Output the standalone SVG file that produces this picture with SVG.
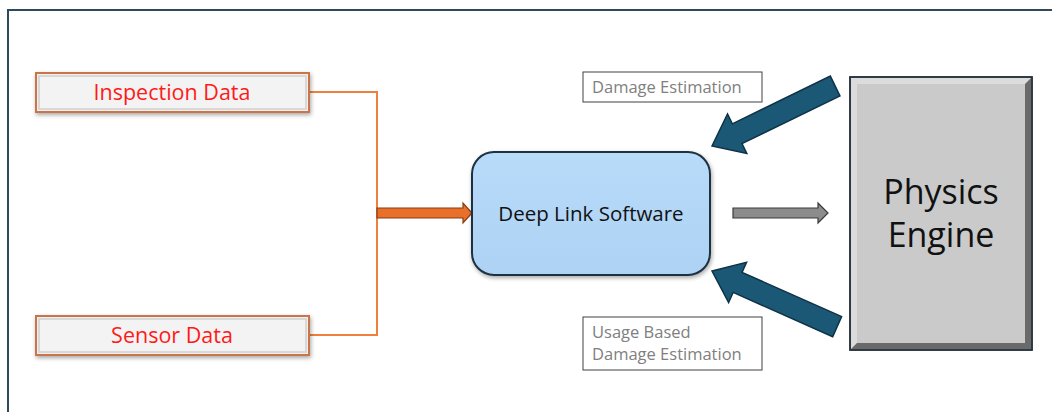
<svg xmlns="http://www.w3.org/2000/svg" width="1052" height="412" viewBox="0 0 1052 412">
  <defs>
    <style>
      .lbl { font-family: "Open Sans", "Liberation Sans", sans-serif; }
      .src-outer { fill: #f4efec; stroke: #c8764a; stroke-width: 2; }
      .src-inner { fill: #f3f3f3; stroke: #d0d0d0; stroke-width: 1.5; }
      .src-text { fill: #ff1a1a; font-size: 21.5px; text-anchor: middle; }
      .note { fill: #ffffff; stroke: #404040; stroke-width: 1; }
      .note-text { fill: #808080; font-size: 16.5px; }
      .wire { fill: none; stroke: #ef7f3d; stroke-width: 2; }
      .blue-arrow { fill: #1b5876; stroke: #0f3246; stroke-width: 1.5; stroke-linejoin: miter; }
    </style>
    <filter id="shadow" x="-10%" y="-30%" width="120%" height="170%">
      <feDropShadow dx="1" dy="2" stdDeviation="2" flood-color="#000" flood-opacity="0.35"/>
    </filter>
    <linearGradient id="boxShade" x1="0" y1="0" x2="0" y2="1">
      <stop offset="0" stop-color="#b8dbfa"/>
      <stop offset="1" stop-color="#aed2f3"/>
    </linearGradient>
  </defs>

  <rect width="1052" height="412" fill="#ffffff"/>

  <!-- outer frame -->
  <rect x="8" y="10" width="1060" height="420" fill="none" stroke="#2e4a5c" stroke-width="2"/>

  <!-- connectors -->
  <g id="connectors">
    <polyline class="wire" points="310,92 377,92 377,335 310,335"/>
    <polygon points="377,208 463,208 463,203 472,213 463,223 463,218 377,218" fill="#e8702a" stroke="#8a3c12" stroke-width="1.2"/>
    <polygon points="733,208 818,208 818,203 828,213 818,223 818,218 733,218" fill="#8c8c8c" stroke="#3a3a3a" stroke-width="1.2"/>
    <polygon class="blue-arrow" transform="translate(712,146) rotate(-26)" points="0,0 28,-22 28,-11 137,-11 137,11 28,11 28,22"/>
    <polygon class="blue-arrow" transform="translate(712,271) rotate(24)" points="0,0 28,-22 28,-11 137,-11 137,11 28,11 28,22"/>
  </g>

  <!-- Inspection Data -->
  <g id="inspection-data">
    <rect class="src-outer" x="36" y="73" width="273" height="39" filter="url(#shadow)"/>
    <rect class="src-inner" x="39" y="76" width="267" height="33"/>
    <text class="lbl src-text" x="172" y="100">Inspection Data</text>
  </g>

  <!-- Sensor Data -->
  <g id="sensor-data">
    <rect class="src-outer" x="36" y="316" width="273" height="39" filter="url(#shadow)"/>
    <rect class="src-inner" x="39" y="319" width="267" height="33"/>
    <text class="lbl src-text" x="172" y="343">Sensor Data</text>
  </g>

  <!-- Deep Link Software -->
  <g id="deep-link-software">
    <rect x="472" y="152" width="238" height="123" rx="22" fill="url(#boxShade)" stroke="#1e3140" stroke-width="2" filter="url(#shadow)"/>
    <text class="lbl" x="591" y="221" font-size="20.5" fill="#111" text-anchor="middle">Deep Link Software</text>
  </g>

  <!-- Physics Engine (bevelled block) -->
  <g id="physics-engine">
    <rect x="850" y="77" width="182" height="273" fill="#c8c8c8" stroke="#26323a" stroke-width="1.5"/>
    <polygon points="851,78 1031,78 1025,84 857,84 857,343 851,349" fill="#dcdcdc"/>
    <polygon points="1031,78 1031,349 851,349 857,343 1025,343 1025,84" fill="#6a6a6a"/>
    <rect x="857" y="84" width="168" height="259" fill="#cacaca"/>
    <rect x="850" y="77" width="182" height="273" fill="none" stroke="#26323a" stroke-width="1.5"/>
    <text class="lbl" x="941" y="204" font-size="34" fill="#111" text-anchor="middle">Physics</text>
    <text class="lbl" x="941" y="247" font-size="34" fill="#111" text-anchor="middle">Engine</text>
  </g>

  <!-- Damage Estimation -->
  <g id="damage-estimation">
    <rect class="note" x="583" y="72" width="179" height="30"/>
    <text class="lbl note-text" x="592" y="93">Damage Estimation</text>
  </g>

  <!-- Usage Based Damage Estimation -->
  <g id="usage-based-damage-estimation">
    <rect class="note" x="583" y="317" width="179" height="53"/>
    <text class="lbl note-text" x="592" y="338">Usage Based</text>
    <text class="lbl note-text" x="592" y="360">Damage Estimation</text>
  </g>
</svg>
